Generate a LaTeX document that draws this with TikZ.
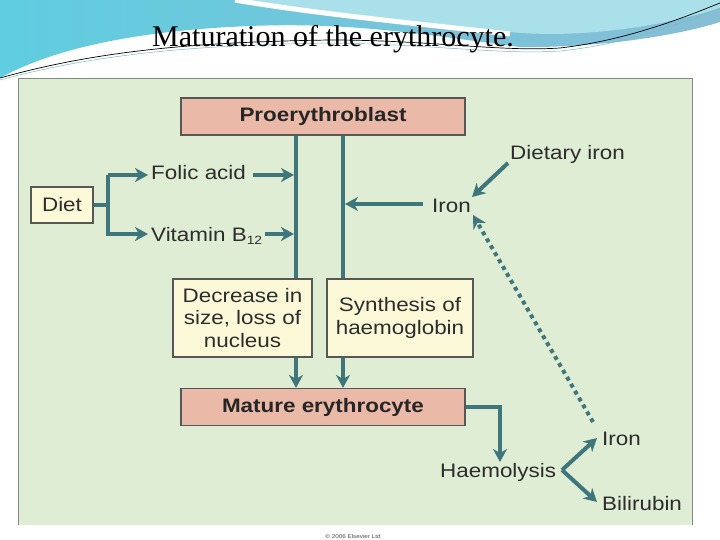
\documentclass[tikz,border=0pt]{standalone}
\usepackage{fontspec}
\setmainfont{Liberation Serif}
\setsansfont{Liberation Sans}[FakeStretch=1.15]
\usetikzlibrary{arrows.meta,calc}
\definecolor{teal1}{RGB}{62,118,124}
\definecolor{panel}{RGB}{223,237,212}
\definecolor{panelborder}{RGB}{128,140,128}
\definecolor{salmon}{RGB}{234,185,168}
\definecolor{ybox}{RGB}{252,249,216}
\definecolor{txt}{RGB}{45,45,45}
\definecolor{bluel}{RGB}{96,205,224}
\definecolor{bluem}{RGB}{135,190,214}
\definecolor{cyanl}{RGB}{170,224,233}
\definecolor{thin}{RGB}{60,160,178}
\tikzset{
  lbl/.style={font=\sffamily\fontsize{19.5}{22.5}\selectfont, text=txt, inner sep=0pt, anchor=base west},
  boxtxt/.style={font=\sffamily\fontsize{19.5}{22.5}\selectfont, text=txt, align=center},
  redbox/.style={draw=txt!80, line width=1.2pt, fill=salmon, minimum width=284pt, minimum height=37pt, inner sep=0pt, font=\sffamily\bfseries\fontsize{19.5}{22.5}\selectfont, text=black!85},
  yelbox/.style={draw=txt!80, line width=1.2pt, fill=ybox, inner sep=0pt, boxtxt},
  conn/.style={draw=teal1, line width=4pt},
  arr/.style={conn, -{Stealth[length=13pt,width=14pt,inset=4pt]}},
  dotarr/.style={draw=teal1, line width=4pt, dash pattern=on 4pt off 4pt, -{Stealth[length=13pt,width=14pt,inset=4pt]}}
}
\begin{document}
\begin{tikzpicture}[x=1pt,y=-1pt]
\useasboundingbox (0,0) rectangle (720,540);
\fill[white] (0,0) rectangle (720,540);
% top decoration
\shade[left color=bluel, right color=bluem] (0,0) -- (720,0) -- (720,22) .. controls (680,35) and (600,48) .. (520,47) .. controls (420,34) and (350,22) .. (250,26) .. controls (150,30) and (60,45) .. (0,78) -- cycle;
\fill[cyanl] (245,0) -- (720,0) -- (720,8) .. controls (650,30) and (570,38) .. (510,32) .. controls (420,22) and (320,12) .. (245,0) -- cycle;
\draw[white, line width=5pt] (235,0) .. controls (310,13) and (420,24) .. (510,34);
\draw[thin, line width=0.7pt] (0,78) .. controls (100,50) and (200,42) .. (330,40) .. controls (430,40) and (500,52) .. (560,48) .. controls (630,40) and (690,15) .. (720,3);
\draw[thin!70, line width=0.5pt] (0,80) .. controls (100,53) and (200,45) .. (330,43) .. controls (430,44) and (500,55) .. (560,51) .. controls (630,44) and (690,20) .. (720,8);
\node[font=\fontsize{30}{32}\selectfont, inner sep=0pt] (title) at (333,39) {Maturation of the erythrocyte.};
% panel
\fill[panel] (18,79) rectangle (692,525);
\draw[panelborder, line width=1pt] (18,525) -- (18,79) -- (692,79) -- (692,525);
\node[font=\sffamily\fontsize{5.5}{6}\selectfont, text=black!70] (copy) at (353,537) {© 2006 Elsevier Ltd};
% boxes
\node[redbox] (pro) at (323,116.5) {Proerythroblast};
\node[redbox] (mat) at (323,407) {Mature erythrocyte};
\node[yelbox, minimum width=139pt, minimum height=78pt] (dec) at (242.5,318) {Decrease in\\size, loss of\\nucleus};
\node[yelbox, minimum width=146pt, minimum height=78pt] (syn) at (400,318) {Synthesis of\\haemoglobin};
\node[yelbox, minimum width=62pt, minimum height=36pt] (diet) at (62,205) {Diet};
% labels
\node[lbl] (folic) at (151,180) {Folic acid};
\node[lbl] (vitb) at (151,241) {Vitamin B\textsubscript{\fontsize{12}{12}\selectfont 12}};
\node[lbl] (iron1) at (432,212) {Iron};
\node[lbl] (diron) at (510,160) {Dietary iron};
\node[lbl] (haem) at (440,477) {Haemolysis};
\node[lbl] (iron2) at (602,445) {Iron};
\node[lbl] (bili) at (602,510) {Bilirubin};
% coordinates
\coordinate (xl) at (296,0);
\coordinate (xr) at (343,0);
\coordinate (fork) at (108,205);
\coordinate (fa) at (253,175);
\coordinate (fb) at (294,175);
\coordinate (va) at (265,234);
\coordinate (vb) at (294,234);
\coordinate (ia) at (423,204);
\coordinate (ib) at (345,204);
\coordinate (da) at (508,163);
\coordinate (db) at (472,197);
\coordinate (pa) at (593,422);
\coordinate (pb) at (473,215);
\coordinate (hx) at (500,407);
\coordinate (hb) at (500,462);
\coordinate (hv) at (562,470);
\coordinate (hi) at (597,438);
\coordinate (hbil) at (597,502);
% connectors
\draw[conn] (pro.south -| xl) -- (dec.north -| xl);
\draw[conn] (pro.south -| xr) -- (syn.north -| xr);
\draw[arr] (dec.south -| xl) -- (mat.north -| xl);
\draw[arr] (syn.south -| xr) -- (mat.north -| xr);
\draw[conn] (diet.east) -- (fork);
\draw[arr] (fork |- fb) -- (fork) -- (fork |- vb) -- (148,234);
\draw[arr] (fork |- fb) -- (148,175);
\draw[arr] (fa) -- (fb);
\draw[arr] (va) -- (vb);
\draw[arr] (ia) -- (ib);
\draw[arr] (da) -- (db);
\draw[dotarr] (pa) -- (pb);
\draw[arr] (mat.east |- hx) -- (hx) -- (hb);
\draw[arr] (hv) -- (hi);
\draw[arr] (hv) -- (hbil);
\end{tikzpicture}
\end{document}
